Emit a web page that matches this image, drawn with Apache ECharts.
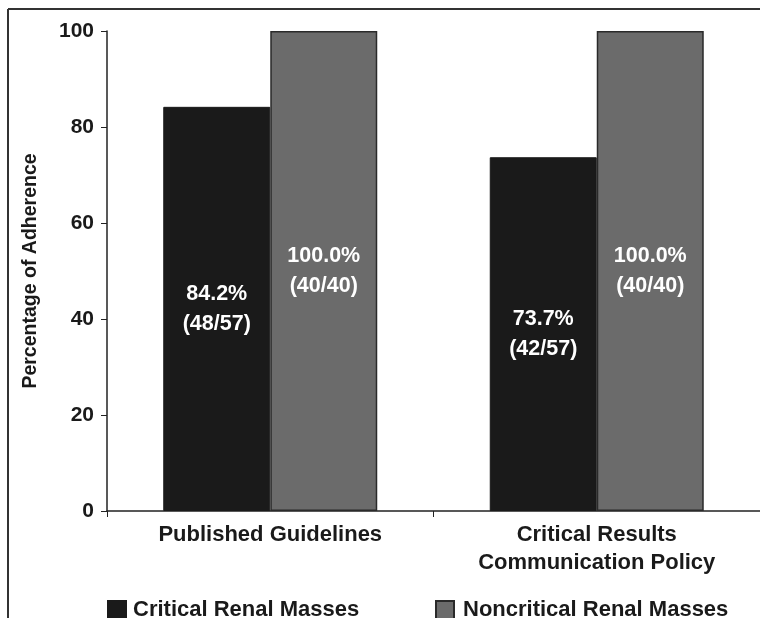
<!DOCTYPE html>
<html>
<head>
<meta charset="utf-8">
<script src="https://cdn.jsdelivr.net/npm/echarts@6/dist/echarts.min.js"></script>
<style>
  html, body { margin: 0; padding: 0; background: #fff; }
  #chart { width: 760px; height: 618px; }
</style>
</head>
<body>
<div id="chart"></div>
<script>
// categories on the x axis
var categories = ['Published Guidelines', 'Critical Results\nCommunication Policy'];

// percentage of adherence per group
var criticalValues = [84.2, 73.7];
var noncriticalValues = [100, 100];

// text shown inside the bars
var criticalLabels = ['84.2%\n(48/57)', '73.7%\n(42/57)'];
var noncriticalLabels = ['100.0%\n(40/40)', '100.0%\n(40/40)'];

var yTicks = [0, 20, 40, 60, 80, 100];

var font = 'Liberation Sans, Arial, sans-serif';

function toData(values, labels) {
  return values.map(function (v, i) {
    return { value: v, label: { formatter: labels[i] } };
  });
}

var myChart = echarts.init(document.getElementById('chart'));

var option = {
  animation: false,
  backgroundColor: '#fff',
  textStyle: { fontFamily: font },
  grid: { left: 107, right: 0, top: 31, bottom: 107 },
  graphic: [
    // frame lines round the figure (top and left)
    { type: 'line', shape: { x1: 8, y1: 9, x2: 760, y2: 9 }, style: { stroke: '#333', lineWidth: 2 } },
    { type: 'line', shape: { x1: 8, y1: 9, x2: 8, y2: 618 }, style: { stroke: '#333', lineWidth: 2 } }
  ],
  legend: [
    {
      left: 102, top: 594,
      itemWidth: 18, itemHeight: 18, itemGap: 0,
      icon: 'rect',
      textStyle: { fontSize: 22, fontWeight: 'bold', color: '#1a1a1a', fontFamily: font, padding: [0, 0, 0, 2] },
      data: ['Critical Renal Masses']
    },
    {
      left: 430, top: 594,
      itemWidth: 18, itemHeight: 18,
      icon: 'rect',
      textStyle: { fontSize: 22, fontWeight: 'bold', color: '#1a1a1a', fontFamily: font, padding: [0, 0, 0, 4] },
      data: ['Noncritical Renal Masses']
    }
  ],
  xAxis: {
    type: 'category',
    data: categories,
    axisLine: { lineStyle: { color: '#222', width: 1.5 } },
    axisTick: { show: true, length: 6, alignWithLabel: false, lineStyle: { color: '#222' } },
    axisLabel: {
      margin: 10,
      fontSize: 22, fontWeight: 'bold', color: '#1a1a1a', lineHeight: 28,
      fontFamily: font
    }
  },
  yAxis: {
    type: 'value',
    min: yTicks[0],
    max: yTicks[yTicks.length - 1],
    interval: 20,
    name: 'Percentage of Adherence',
    nameLocation: 'middle',
    nameGap: 66,
    nameTextStyle: { fontSize: 19.5, fontWeight: 'bold', color: '#1a1a1a', fontFamily: font },
    axisLine: { show: true, lineStyle: { color: '#222', width: 1.5 } },
    axisTick: { show: true, length: 6, lineStyle: { color: '#222' } },
    axisLabel: { margin: 13, fontSize: 21, fontWeight: 'bold', color: '#1a1a1a', fontFamily: font },
    splitLine: { show: false }
  },
  series: [
    {
      name: 'Critical Renal Masses',
      type: 'bar',
      barWidth: 107,
      barGap: '0%',
      data: toData(criticalValues, criticalLabels),
      itemStyle: { color: '#1a1a1a', borderColor: '#1a1a1a', borderWidth: 1 },
      label: {
        show: true, position: 'inside',
        color: '#fff', fontSize: 21.5, fontWeight: 'bold', lineHeight: 30, fontFamily: font
      }
    },
    {
      name: 'Noncritical Renal Masses',
      type: 'bar',
      barWidth: 107,
      barGap: '0%',
      data: toData(noncriticalValues, noncriticalLabels),
      itemStyle: { color: '#6b6b6b', borderColor: '#2a2a2a', borderWidth: 1.5 },
      label: {
        show: true, position: 'inside',
        color: '#fff', fontSize: 21.5, fontWeight: 'bold', lineHeight: 30, fontFamily: font
      }
    }
  ]
};

myChart.setOption(option);
</script>
</body>
</html>
